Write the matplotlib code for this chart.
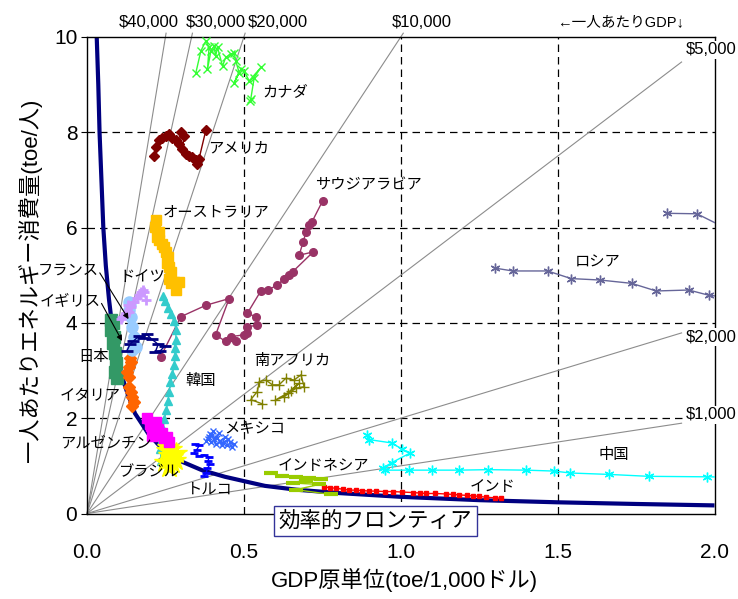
import matplotlib
matplotlib.use('Agg')
import matplotlib.pyplot as plt

plt.rcParams['font.family'] = ['Liberation Sans', 'Noto Sans CJK JP', 'DejaVu Sans']

# Per-capita GDP guide lines (thousand USD per person): energy/person = GDP/person * intensity
gdp_top = [40, 30, 20, 10]
gdp_top_labels = ['$40,000', '$30,000', '$20,000', '$10,000']
gdp_top_label_x = [0.198, 0.411, 0.609, 1.068]
gdp_side = [5, 2, 1]
gdp_side_labels = ['$5,000', '$2,000', '$1,000']
gdp_side_label_y = [9.73, 3.70, 2.07]

# Efficient frontier
frontier_x = [0.031, 0.036, 0.040, 0.046, 0.052, 0.060, 0.070, 0.079, 0.092, 0.108, 0.125,
              0.153, 0.195, 0.238, 0.291, 0.366, 0.440, 0.500, 0.567, 0.667, 0.800, 1.000,
              1.250, 1.500, 1.750, 2.000]
frontier_y = [10.0, 9.0, 8.0, 7.0, 6.0, 5.2, 4.5, 4.0, 3.4, 2.95, 2.6,
              2.1, 1.68, 1.37, 1.12, 0.91, 0.77, 0.68, 0.58, 0.50, 0.43, 0.35,
              0.28, 0.235, 0.20, 0.17]

# Country trajectories: (intensity toe/1,000$, energy per capita toe)
canada_x = [0.520, 0.522, 0.533, 0.554, 0.517, 0.500, 0.490, 0.469, 0.485, 0.474, 0.469, 0.458,
            0.442, 0.432, 0.416, 0.410, 0.405, 0.395, 0.384, 0.389, 0.379, 0.363, 0.347]
canada_y = [8.66, 8.70, 9.15, 9.36, 9.08, 9.29, 9.32, 9.04, 9.25, 9.50, 9.67, 9.64,
            9.57, 9.39, 9.78, 9.60, 9.81, 9.71, 9.32, 9.78, 9.92, 9.71, 9.25]

usa_x = [0.379, 0.357, 0.352, 0.347, 0.336, 0.325, 0.315, 0.304, 0.310, 0.300, 0.293, 0.283,
         0.272, 0.262, 0.251, 0.240, 0.230, 0.219, 0.214]
usa_y = [8.05, 7.44, 7.34, 7.41, 7.48, 7.51, 7.55, 7.65, 7.93, 8.00, 7.76, 7.83,
         7.89, 7.96, 7.93, 7.89, 7.83, 7.69, 7.51]

australia_x = [0.283, 0.293, 0.278, 0.267, 0.262, 0.267, 0.262, 0.256, 0.259, 0.253, 0.246,
               0.240, 0.230, 0.224, 0.228, 0.217, 0.219]
australia_y = [4.69, 4.86, 4.86, 4.83, 4.93, 5.07, 5.17, 5.25, 5.38, 5.49, 5.59,
               5.66, 5.73, 5.80, 5.90, 6.01, 6.15]

saudi_x = [0.235, 0.299, 0.379, 0.453, 0.410, 0.442, 0.474, 0.458, 0.500, 0.511, 0.511, 0.543,
           0.538, 0.511, 0.554, 0.578, 0.607, 0.628, 0.644, 0.655, 0.721, 0.676, 0.689, 0.698,
           0.708, 0.717, 0.751]
saudi_y = [3.29, 4.13, 4.37, 4.51, 3.75, 3.61, 3.61, 3.71, 3.75, 3.79, 3.92, 3.95,
           4.13, 4.20, 4.67, 4.70, 4.79, 4.93, 5.00, 5.07, 5.49, 5.42, 5.70, 5.91,
           6.05, 6.12, 6.56]

safrica_x = [0.559, 0.522, 0.543, 0.549, 0.570, 0.591, 0.612, 0.634, 0.660, 0.682, 0.692,
             0.666, 0.628, 0.600, 0.640, 0.675, 0.650]
safrica_y = [2.30, 2.39, 2.56, 2.77, 2.80, 2.70, 2.70, 2.84, 2.80, 2.91, 2.66,
             2.63, 2.45, 2.38, 2.53, 2.73, 2.58]

russia_x = [1.848, 1.944, 2.200, 2.350, 2.100, 1.982, 1.918, 1.814, 1.736, 1.635, 1.543,
            1.468, 1.357, 1.300]
russia_y = [6.30, 6.29, 5.45, 4.90, 4.50, 4.58, 4.69, 4.67, 4.83, 4.90, 4.93,
            5.09, 5.09, 5.15]

china_x = [2.200, 1.975, 1.790, 1.665, 1.540, 1.490, 1.399, 1.279, 1.187, 1.100, 1.027, 0.951,
           0.944, 0.972, 1.030, 1.004, 0.972, 0.900, 0.892]
china_y = [0.75, 0.77, 0.78, 0.82, 0.85, 0.89, 0.91, 0.92, 0.91, 0.91, 0.91, 0.91,
           0.96, 1.07, 1.27, 1.35, 1.48, 1.55, 1.65]

india_x = [1.320, 1.300, 1.272, 1.250, 1.229, 1.210, 1.187, 1.165, 1.144, 1.110, 1.080, 1.060,
           1.038, 1.005, 0.974, 0.950, 0.921, 0.900, 0.878, 0.856, 0.836, 0.815, 0.793, 0.775,
           0.756]
india_y = [0.32, 0.33, 0.34, 0.36, 0.37, 0.38, 0.39, 0.40, 0.41, 0.42, 0.42, 0.43,
           0.44, 0.45, 0.46, 0.46, 0.47, 0.47, 0.48, 0.49, 0.49, 0.51, 0.53, 0.54,
           0.56]

indonesia_x = [0.777, 0.666, 0.740, 0.655, 0.697, 0.745, 0.708, 0.666, 0.623, 0.586]
indonesia_y = [0.40, 0.50, 0.61, 0.64, 0.68, 0.73, 0.75, 0.77, 0.78, 0.84]

mexico_x = [0.468, 0.455, 0.462, 0.445, 0.450, 0.432, 0.440, 0.425, 0.430, 0.415,
            0.420, 0.405, 0.410, 0.398, 0.402, 0.390, 0.395, 0.385, 0.392, 0.380]
mexico_y = [1.46, 1.50, 1.40, 1.43, 1.56, 1.48, 1.60, 1.53, 1.43, 1.58,
            1.68, 1.56, 1.46, 1.64, 1.73, 1.60, 1.50, 1.56, 1.66, 1.53]

turkey_x = [0.373, 0.380, 0.384, 0.392, 0.385, 0.390, 0.373, 0.357, 0.341, 0.350, 0.358, 0.345]
turkey_y = [0.78, 0.86, 0.95, 1.03, 1.10, 1.18, 1.23, 1.20, 1.26, 1.34, 1.43, 1.45]

brazil_x = [0.262, 0.270, 0.280, 0.275, 0.285, 0.268, 0.255, 0.262, 0.272, 0.250, 0.258]
brazil_y = [0.98, 1.06, 1.13, 1.23, 1.28, 1.36, 1.33, 1.23, 1.18, 1.08, 1.40]

argentina_x = [0.262, 0.246, 0.230, 0.214, 0.208, 0.203, 0.219, 0.192, 0.200, 0.225, 0.240, 0.255]
argentina_y = [1.51, 1.58, 1.65, 1.72, 1.62, 1.83, 1.93, 2.00, 1.88, 1.78, 1.68, 1.60]

korea_x = [0.236, 0.234, 0.238, 0.242, 0.247, 0.253, 0.258, 0.262, 0.266, 0.272, 0.278,
           0.281, 0.279, 0.283, 0.284, 0.276, 0.268, 0.258, 0.250, 0.243]
korea_y = [1.10, 1.35, 1.57, 1.78, 1.98, 2.17, 2.37, 2.55, 2.75, 2.92, 3.12,
           3.30, 3.48, 3.65, 3.86, 4.05, 4.18, 4.32, 4.45, 4.57]

japan_x = [0.095, 0.090, 0.094, 0.088, 0.083, 0.085, 0.078, 0.082, 0.075]
japan_y = [2.84, 2.98, 3.15, 3.36, 3.57, 3.70, 3.85, 3.99, 4.06]

italy_x = [0.145, 0.150, 0.145, 0.139, 0.134, 0.134, 0.129, 0.134, 0.140, 0.136]
italy_y = [2.25, 2.35, 2.45, 2.56, 2.66, 2.87, 2.98, 3.08, 3.18, 3.26]

france_x = [0.145, 0.155, 0.150, 0.145, 0.139, 0.134, 0.137, 0.134]
france_y = [3.43, 3.50, 3.71, 3.92, 4.13, 4.28, 4.38, 4.44]

uk_x = [0.249, 0.233, 0.217, 0.227, 0.206, 0.190, 0.179, 0.165, 0.148, 0.137, 0.127]
uk_y = [3.52, 3.41, 3.38, 3.55, 3.66, 3.76, 3.69, 3.72, 3.62, 3.55, 3.41]

germany_x = [0.187, 0.182, 0.171, 0.166, 0.150, 0.140, 0.134, 0.123, 0.113, 0.107, 0.130, 0.160, 0.178]
germany_y = [4.48, 4.65, 4.65, 4.58, 4.43, 4.33, 4.23, 4.20, 4.13, 4.09, 4.38, 4.53, 4.70]

asterisk = (6, 2, 0)

series = [
    (canada_x, canada_y, '#33FF33', 'x', 6, 1.0),
    (usa_x, usa_y, '#800000', 'D', 5, 1.0),
    (australia_x, australia_y, '#FFC000', 's', 6.5, 1.0),
    (saudi_x, saudi_y, '#993366', 'o', 5.5, 1.0),
    (safrica_x, safrica_y, '#808000', '+', 7, 1.0),
    (russia_x, russia_y, '#666699', asterisk, 7, 1.0),
    (china_x, china_y, '#00FFFF', asterisk, 7, 1.0),
    (india_x, india_y, '#FF0000', 's', 2.5, 1.0),
    (indonesia_x, indonesia_y, '#99CC00', '_', 10, 3.0),
    (mexico_x, mexico_y, '#3366FF', 'x', 4.5, 1.0),
    (turkey_x, turkey_y, '#0000FF', '_', 6, 2.0),
    (korea_x, korea_y, '#33CCCC', '^', 6, 1.0),
    (brazil_x, brazil_y, '#FFFF00', '*', 16, 1.0),
    (argentina_x, argentina_y, '#FF00FF', 's', 7, 1.0),
    (japan_x, japan_y, '#339966', 's', 8, 1.0),
    (italy_x, italy_y, '#FF6600', 'D', 6.5, 1.0),
    (france_x, france_y, '#99CCFF', 'o', 8, 1.0),
    (germany_x, germany_y, '#CC99FF', '+', 7, 2.0),
    (uk_x, uk_y, '#000080', '_', 9, 2.0),
]

# Country name labels: (text, x, y, horizontal alignment)
country_labels = [
    ('カナダ', 0.558, 8.85, 'left'),
    ('アメリカ', 0.386, 7.67, 'left'),
    ('オーストラリア', 0.242, 6.33, 'left'),
    ('サウジアラビア', 0.727, 6.89, 'left'),
    ('ロシア', 1.555, 5.26, 'left'),
    ('ドイツ', 0.105, 4.96, 'left'),
    ('韓国', 0.312, 2.78, 'left'),
    ('南アフリカ', 0.532, 3.21, 'left'),
    ('メキシコ', 0.437, 1.79, 'left'),
    ('トルコ', 0.318, 0.50, 'left'),
    ('インドネシア', 0.609, 1.00, 'left'),
    ('インド', 1.221, 0.55, 'left'),
    ('中国', 1.629, 1.22, 'left'),
    ('ブラジル', 0.100, 0.86, 'left'),
    ('フランス', 0.036, 5.10, 'right'),
    ('イギリス', 0.042, 4.46, 'right'),
    ('日本', 0.068, 3.28, 'right'),
    ('イタリア', 0.108, 2.47, 'right'),
    ('アルゼンチン', 0.205, 1.48, 'right'),
]

fig = plt.figure(figsize=(7.38, 5.99), dpi=100)
ax = fig.add_axes([87 / 738, 1 - 513.5 / 599, 627.5 / 738, 476.5 / 599])
ax.set_xlim(0, 2.0)
ax.set_ylim(0, 10)

# dashed reference grid
for v in [0.5, 1.0, 1.5]:
    ax.axvline(v, color='black', lw=0.9, ls=(0, (6, 4)), zorder=1)
for v in [2, 4, 6, 8]:
    ax.axhline(v, color='black', lw=0.9, ls=(0, (6, 4)), zorder=1)

# GDP per capita rays from the origin
for g in gdp_top:
    xe = 10.08 / g
    ax.plot([0, xe], [0, g * xe], color='#8C8C8C', lw=0.8, clip_on=False, zorder=1)
for g in gdp_side:
    xe = 1.895
    ax.plot([0, xe], [0, g * xe], color='#8C8C8C', lw=0.8, clip_on=False, zorder=1)

ax.plot(frontier_x, frontier_y, color='#000080', lw=3, zorder=2, solid_capstyle='butt')

for xs, ys, col, mk, ms, mew in series:
    ax.plot(xs, ys, color=col, lw=1, marker=mk, ms=ms, mew=mew,
            mec=col, mfc=col, zorder=3)

for txt, x, y, ha in country_labels:
    ax.text(x, y, txt, fontsize=11, ha=ha, va='center', zorder=5, clip_on=False)

# leader arrows for the crowded European group
ax.annotate('', xy=(0.137, 4.03), xytext=(0.036, 5.10),
            arrowprops=dict(arrowstyle='-|>', color='black', lw=0.8, mutation_scale=8))
ax.annotate('', xy=(0.116, 3.57), xytext=(0.042, 4.46),
            arrowprops=dict(arrowstyle='-|>', color='black', lw=0.8, mutation_scale=8))

for lab, x in zip(gdp_top_labels, gdp_top_label_x):
    ax.text(x, 10.31, lab, fontsize=12, ha='center', va='center', clip_on=False)
for lab, y in zip(gdp_side_labels, gdp_side_label_y):
    ax.text(1.989, y, lab, fontsize=12, ha='center', va='center', clip_on=False, zorder=6,
            bbox=dict(boxstyle='square,pad=0.1', fc='white', ec='none'))
ax.text(1.699, 10.31, '←一人あたりGDP↓', fontsize=10.5, ha='center', va='center', clip_on=False)

ax.text(0.918, -0.157, '効率的フロンティア', fontsize=15.5, ha='center', va='center',
        clip_on=False, zorder=6,
        bbox=dict(boxstyle='square,pad=0.22', fc='white', ec='#333399', lw=1))

ax.set_xticks([0, 0.5, 1.0, 1.5, 2.0])
ax.set_xticklabels(['0.0', '0.5', '1.0', '1.5', '2.0'])
ax.set_yticks([0, 2, 4, 6, 8, 10])
ax.set_yticklabels(['0', '2', '4', '6', '8', '10'])
ax.tick_params(axis='x', length=0, pad=21, labelsize=15)
ax.tick_params(axis='y', length=4, direction='out', pad=3, labelsize=15)
for s in ax.spines.values():
    s.set_linewidth(1.0)
    s.set_color('black')

fig.text(404 / 738, 1 - 580 / 599, 'GDP原単位(toe/1,000ドル)', fontsize=16,
         ha='center', va='center')
fig.text(30 / 738, 1 - 280 / 599, '一人あたりエネルギー消費量(toe/人)', fontsize=16,
         ha='center', va='center', rotation=90)

fig.savefig('out.png', dpi=100)
